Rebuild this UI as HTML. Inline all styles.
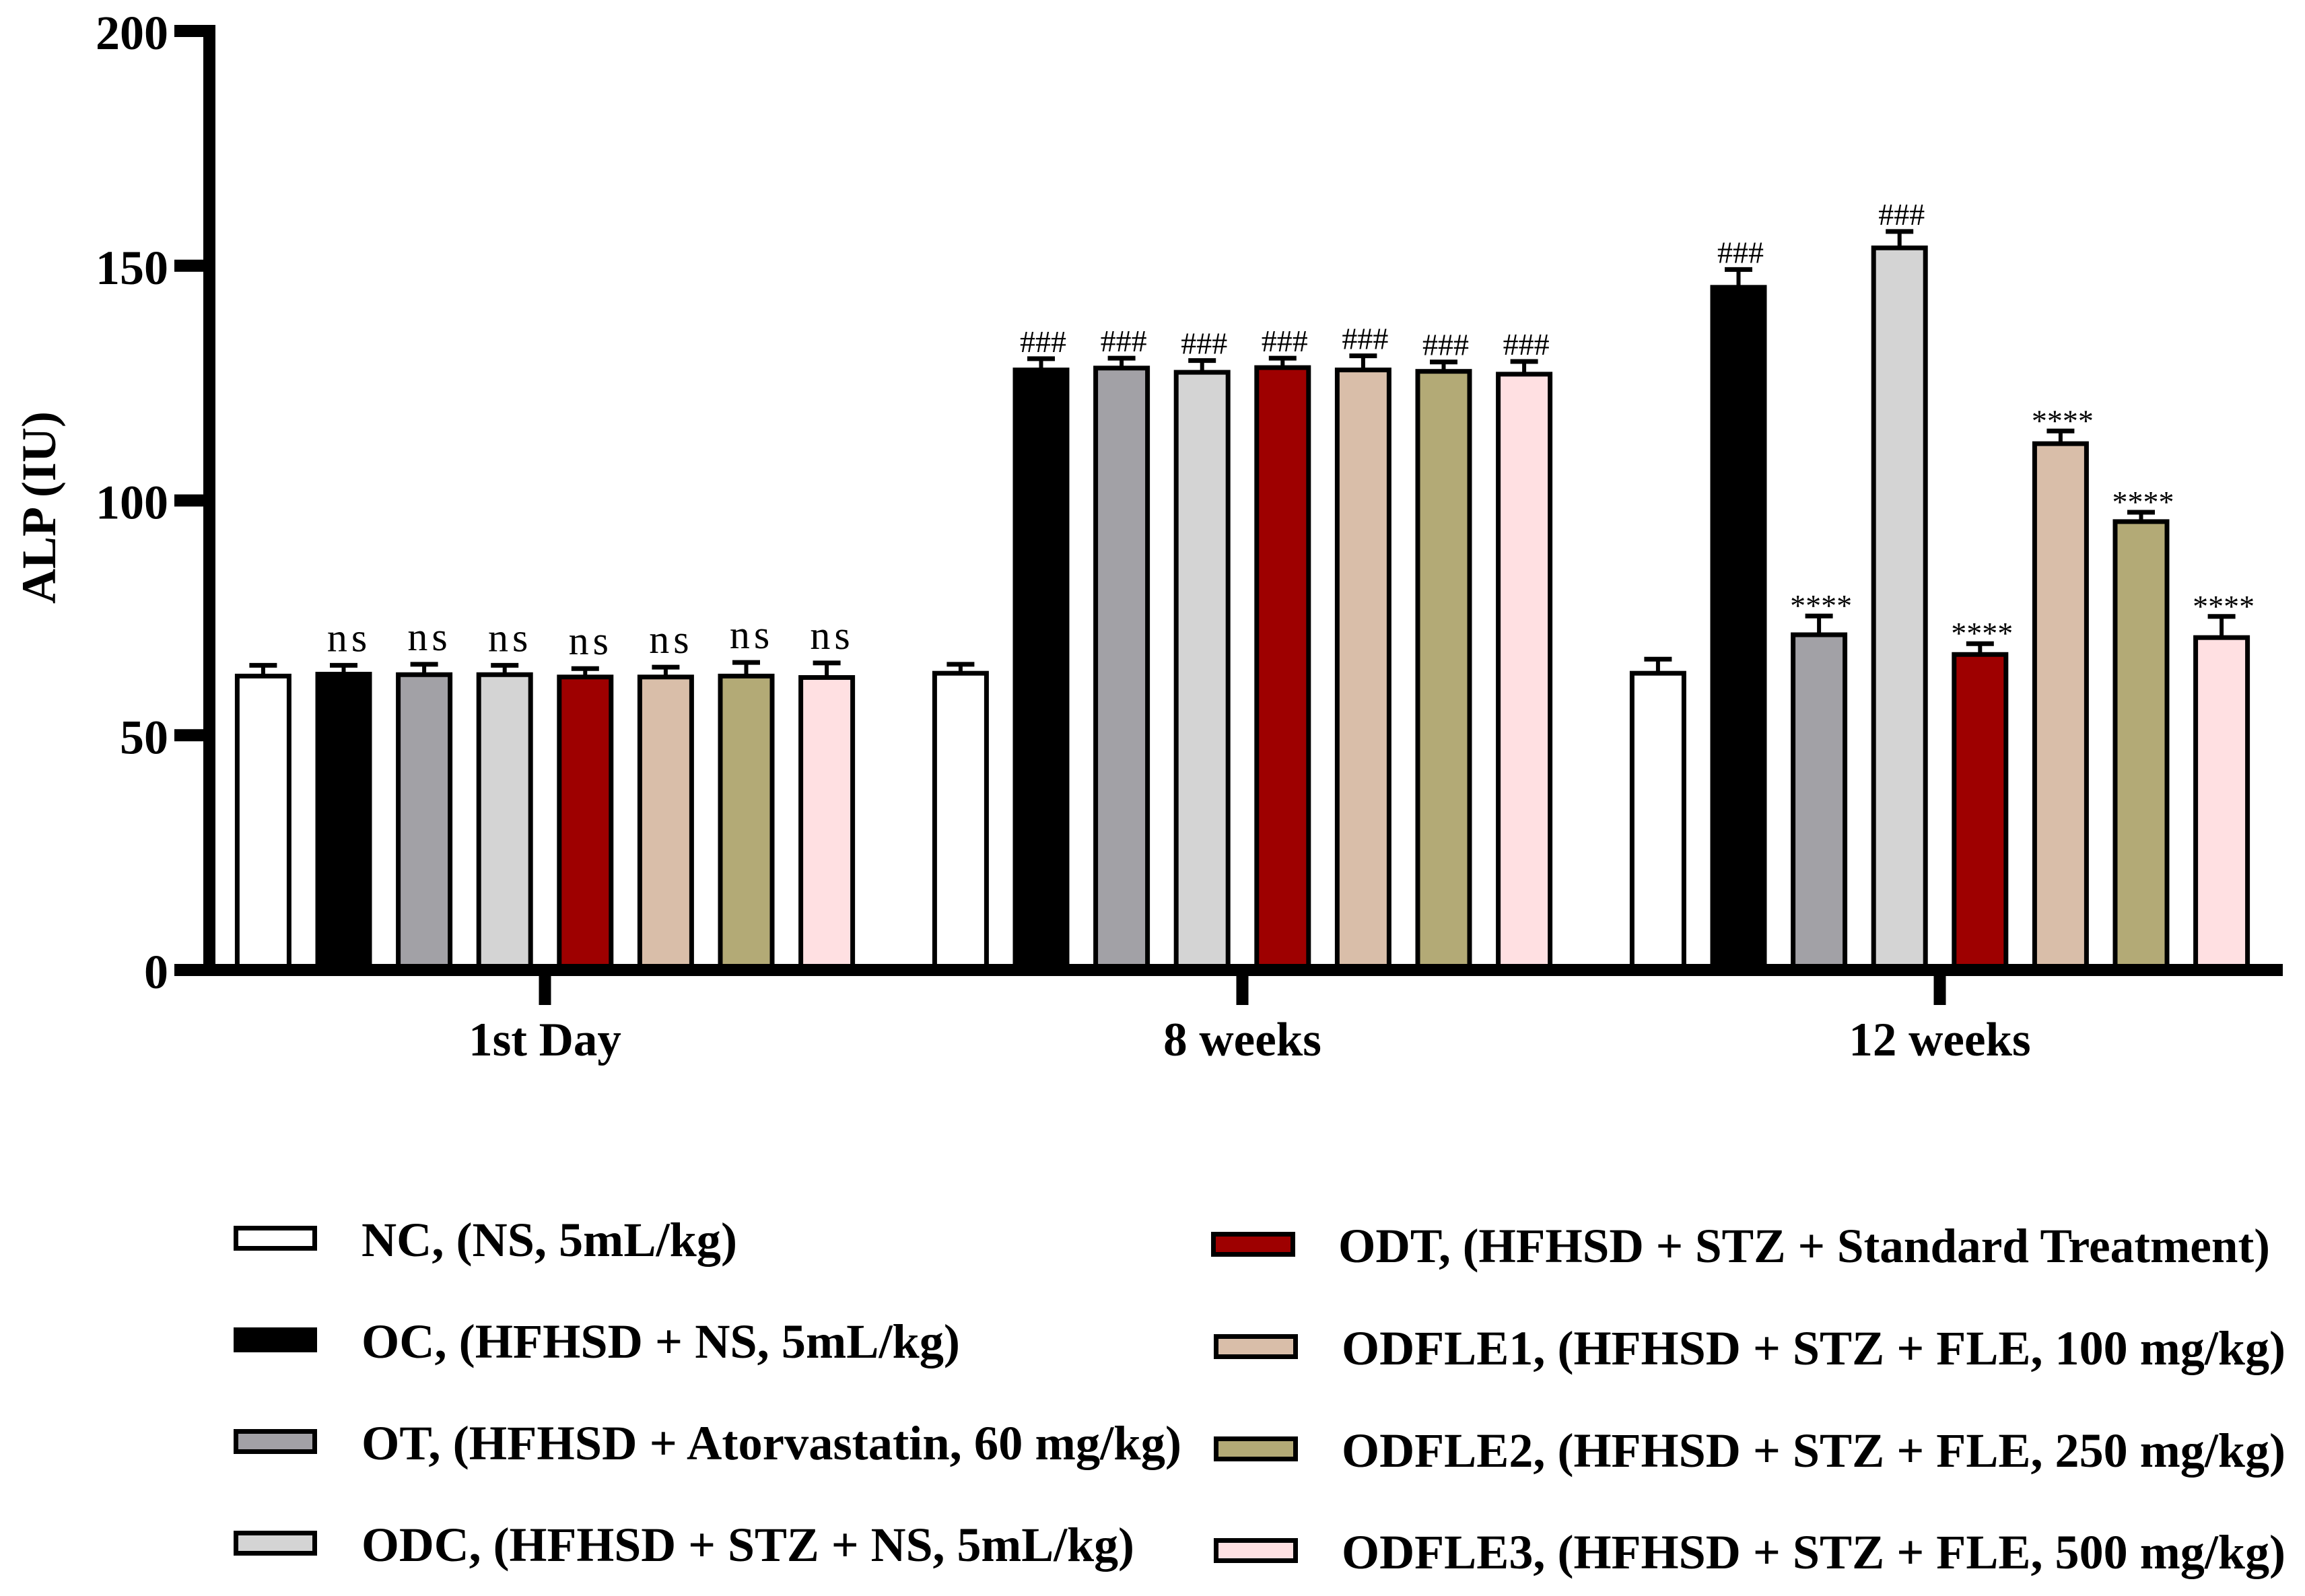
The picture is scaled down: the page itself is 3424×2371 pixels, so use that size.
<!DOCTYPE html>
<html lang="en">
<head>
<meta charset="utf-8">
<title>ALP (IU) bar chart</title>
<style>
html,body{margin:0;padding:0;background:#fff;}
svg{display:block;}
text{font-family:"Liberation Serif","Times New Roman",serif;fill:#000;}
.tick{font-weight:700;font-size:72px;}
.cat{font-weight:700;font-size:71px;}
.leg{font-weight:700;font-size:72px;}
</style>
</head>
<body>
<svg id="chart" xmlns="http://www.w3.org/2000/svg" width="3424" height="2371" viewBox="0 0 3424 2371">
<rect x="0" y="0" width="3424" height="2371" fill="#ffffff"/>
<g id="plot"></g>
<text transform="translate(82,754) rotate(-90)" text-anchor="middle" font-weight="700" font-size="72">ALP (IU)</text>

<g>
<g>
<rect x="350.5" y="1824.5" width="117" height="30" fill="#ffffff" stroke="#000" stroke-width="7"/>
<text class="leg" x="537" y="1866" textLength="558" lengthAdjust="spacingAndGlyphs">NC, (NS, 5mL/kg)</text>
</g>
<g>
<rect x="350.5" y="1975.5" width="117" height="30" fill="#000000" stroke="#000" stroke-width="7"/>
<text class="leg" x="537" y="2017" textLength="889" lengthAdjust="spacingAndGlyphs">OC, (HFHSD + NS, 5mL/kg)</text>
</g>
<g>
<rect x="350.5" y="2126.5" width="117" height="30" fill="#A2A1A6" stroke="#000" stroke-width="7"/>
<text class="leg" x="537" y="2168" textLength="1218" lengthAdjust="spacingAndGlyphs">OT, (HFHSD + Atorvastatin, 60 mg/kg)</text>
</g>
<g>
<rect x="350.5" y="2277.5" width="117" height="30" fill="#D4D4D4" stroke="#000" stroke-width="7"/>
<text class="leg" x="537" y="2319" textLength="1148" lengthAdjust="spacingAndGlyphs">ODC, (HFHSD + STZ + NS, 5mL/kg)</text>
</g>
<g>
<rect x="1802.5" y="1833.5" width="118" height="30" fill="#9E0000" stroke="#000" stroke-width="7"/>
<text class="leg" x="1988" y="1875" textLength="1384" lengthAdjust="spacingAndGlyphs">ODT, (HFHSD + STZ + Standard Treatment)</text>
</g>
<g>
<rect x="1806.5" y="1985.5" width="118" height="30" fill="#D9BEA9" stroke="#000" stroke-width="7"/>
<text class="leg" x="1993" y="2027" textLength="1402" lengthAdjust="spacingAndGlyphs">ODFLE1, (HFHSD + STZ + FLE, 100 mg/kg)</text>
</g>
<g>
<rect x="1806.5" y="2137.5" width="118" height="30" fill="#B3AA76" stroke="#000" stroke-width="7"/>
<text class="leg" x="1993" y="2179" textLength="1402" lengthAdjust="spacingAndGlyphs">ODFLE2, (HFHSD + STZ + FLE, 250 mg/kg)</text>
</g>
<g>
<rect x="1806.5" y="2288.5" width="118" height="30" fill="#FFE0E2" stroke="#000" stroke-width="7"/>
<text class="leg" x="1993" y="2330" textLength="1402" lengthAdjust="spacingAndGlyphs">ODFLE3, (HFHSD + STZ + FLE, 500 mg/kg)</text>
</g>
</g>
</svg>
<script>
const categories = ['1st Day', '8 weeks', '12 weeks'];
const seriesNames = ['NC', 'OC', 'OT', 'ODC', 'ODT', 'ODFLE1', 'ODFLE2', 'ODFLE3'];
const seriesFills = ['#FFFFFF', '#000000', '#A2A1A6', '#D4D4D4', '#9E0000', '#D9BEA9', '#B3AA76', '#FFE0E2'];
const yTicks = [0, 50, 100, 150, 200];

const valuesDay1 = [62.6, 63.0, 62.9, 62.9, 62.4, 62.4, 62.6, 62.3];
const valuesWeek8 = [63.2, 127.8, 128.2, 127.3, 128.3, 127.8, 127.5, 126.9];
const valuesWeek12 = [63.2, 145.4, 71.4, 153.8, 67.2, 112.1, 95.5, 70.8];

const errorsDay1 = [2.3, 1.9, 2.2, 2.0, 1.8, 2.1, 2.9, 3.1];
const errorsWeek8 = [1.9, 2.4, 2.1, 2.5, 2.0, 3.0, 2.0, 2.7];
const errorsWeek12 = [3.0, 3.8, 4.0, 3.5, 2.3, 2.7, 2.0, 4.5];

const marksDay1 = ['', 'ns', 'ns', 'ns', 'ns', 'ns', 'ns', 'ns'];
const marksWeek8 = ['', '###', '###', '###', '###', '###', '###', '###'];
const marksWeek12 = ['', '###', '****', '###', '****', '****', '****', '****'];

const groupValues = [valuesDay1, valuesWeek8, valuesWeek12];
const groupErrors = [errorsDay1, errorsWeek8, errorsWeek12];
const groupMarks = [marksDay1, marksWeek8, marksWeek12];

const NS = 'http://www.w3.org/2000/svg';
const plot = document.getElementById('plot');

function yScale(v) { return 1441 - v * 6.975; }
function groupX(g) { return 809.5 + g * 1036; }
function barX(g, i) { return groupX(g) + (i - (seriesNames.length - 1) / 2) * 119.6; }

function make(tag, attrs, parent) {
  const el = document.createElementNS(NS, tag);
  for (const k in attrs) el.setAttribute(k, attrs[k]);
  (parent || plot).appendChild(el);
  return el;
}

groupValues.forEach(function (vals, g) {
  vals.forEach(function (v, i) {
    const cx = barX(g, i);
    const top = yScale(v);
    const base = yScale(0);
    const upper = yScale(v + groupErrors[g][i]);
    const suffix = categories[g].replace(/\s+/g, '-').toLowerCase() + '-' + seriesNames[i].toLowerCase();

    const stem = make('line', { x1: cx, x2: cx, y1: top, y2: upper, stroke: '#000', 'stroke-width': 6 });
    
    

    const cap = make('line', { x1: cx - 20.5, x2: cx + 20.5, y1: upper, y2: upper, stroke: '#000', 'stroke-width': 7 });
    
    

    const bar = make('rect', { x: cx - 38.5, y: top, width: 77, height: base - top, fill: seriesFills[i], stroke: '#000', 'stroke-width': 7 });
    
    

    const mark = groupMarks[g][i];
    if (mark) {
      const isNs = mark === 'ns';
      const isHash = mark === '###';
      const lift = isNs ? 21 : isHash ? 10 : 0;
      const label = make('text', {
        x: cx + (isNs ? 8 : 3),
        y: upper - lift,
        'text-anchor': 'middle',
        'font-size': isNs ? 60 : 46,
        'letter-spacing': isNs ? 6 : 0
      });
      
      
      label.textContent = mark;
    }
  });
});

const yLine = make('line', { x1: 311, x2: 311, y1: yScale(200) - 9, y2: yScale(0) + 9, stroke: '#000', 'stroke-width': 18 });



const xLine = make('line', { x1: 259, x2: 3391, y1: yScale(0), y2: yScale(0), stroke: '#000', 'stroke-width': 18 });



yTicks.forEach(function (t) {
  const y = yScale(t);
  const tick = make('line', { x1: 259, x2: 303, y1: y, y2: y, stroke: '#000', 'stroke-width': 18 });
  
  
  const lab = make('text', { x: 250, y: y + 27, 'text-anchor': 'end', class: 'tick' });
  
  
  lab.textContent = String(t);
});

categories.forEach(function (c, g) {
  const x = groupX(g);
  const slug = c.replace(/\s+/g, '-').toLowerCase();
  const tick = make('line', { x1: x, x2: x, y1: yScale(0), y2: 1493, stroke: '#000', 'stroke-width': 18 });
  
  
  const lab = make('text', { x: x, y: 1568, 'text-anchor': 'middle', class: 'cat' });
  
  
  lab.textContent = c;
});
</script>
</body>
</html>
